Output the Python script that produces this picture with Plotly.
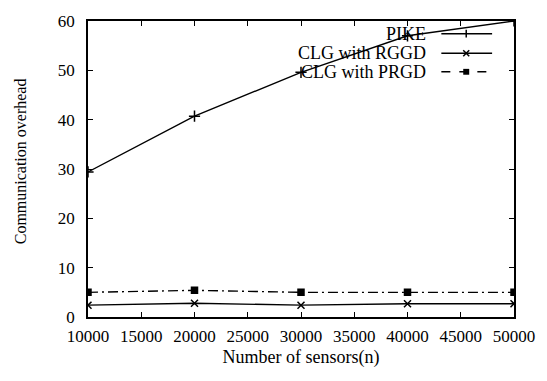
import plotly.graph_objects as go

# Number of sensors (n)
sensors = [10000, 20000, 30000, 40000, 50000]

# Communication overhead per scheme
pike = [29.4, 40.7, 49.6, 57.0, 60.0]
clg_rggd = [2.4, 2.8, 2.4, 2.7, 2.7]
clg_prgd = [5.0, 5.4, 5.0, 5.0, 5.0]

series_names = ["PIKE", "CLG with RGGD", "CLG with PRGD"]

FONT = "Liberation Serif"
W, H = 547, 381
ML, MR, MT, MB = 88, 31, 14, 64
PW, PH = W - ML - MR, H - MT - MB

styles = [
    dict(dash="solid", symbol="cross-thin", size=8),
    dict(dash="solid", symbol="x-thin", size=7),
    dict(dash="10px,4px,2px,4px", symbol="square", size=6),
]

fig = go.Figure()
for name, vals, st in zip(series_names, [pike, clg_rggd, clg_prgd], styles):
    fig.add_trace(go.Scatter(
        x=sensors, y=vals, name=name, mode="lines+markers",
        line=dict(color="black", width=1.4, dash=st["dash"]),
        marker=dict(symbol=st["symbol"], size=st["size"], color="black",
                    line=dict(color="black", width=1.5)),
        showlegend=False,
    ))


def px(x):
    return (x - ML) / PW


def py(y):
    return (MT + PH - y) / PH


# gnuplot-style key: right-aligned text with the sample line on its right
shapes = []
annotations = []
rows_y = [27, 47, 66]
line_x0, line_x1, mark_x = 443, 494, 468
for name, st, ry in zip(series_names, styles, rows_y):
    annotations.append(dict(
        x=px(430), y=py(ry), xref="paper", yref="paper", text=name,
        showarrow=False, xanchor="right", yanchor="middle",
        font=dict(family=FONT, size=18, color="black"),
    ))
    dash = "dash" if st["dash"] != "solid" else "solid"
    shapes.append(dict(type="line", xref="paper", yref="paper",
                       x0=px(line_x0), x1=px(line_x1), y0=py(ry), y1=py(ry),
                       line=dict(color="black", width=1.4, dash=dash)))
    if st["symbol"] == "square":
        shapes.append(dict(type="rect", xref="paper", yref="paper",
                           x0=px(mark_x - 3), x1=px(mark_x + 3),
                           y0=py(ry + 3), y1=py(ry - 3),
                           fillcolor="black", line=dict(color="black", width=0)))
    elif st["symbol"] == "cross-thin":
        shapes.append(dict(type="line", xref="paper", yref="paper",
                           x0=px(mark_x), x1=px(mark_x), y0=py(ry - 4), y1=py(ry + 4),
                           line=dict(color="black", width=1.5)))
    else:
        for d in (1, -1):
            shapes.append(dict(type="line", xref="paper", yref="paper",
                               x0=px(mark_x - 3), x1=px(mark_x + 3),
                               y0=py(ry - 3 * d), y1=py(ry + 3 * d),
                               line=dict(color="black", width=1.5)))

annotations.append(dict(
    x=-0.158, y=0.525, xref="paper", yref="paper", text="Communication overhead",
    showarrow=False, textangle=-90, xanchor="center", yanchor="middle",
    font=dict(family=FONT, size=16, color="black"),
))

axis_common = dict(
    showline=True, linecolor="black", linewidth=1.5, mirror="allticks",
    ticks="inside", ticklen=5, tickwidth=1.2, tickcolor="black",
    showgrid=False, zeroline=False,
    tickfont=dict(family=FONT, size=17, color="black"),
)

fig.update_layout(
    width=W, height=H,
    margin=dict(l=ML, r=MR, t=MT, b=MB),
    paper_bgcolor="white", plot_bgcolor="white",
    font=dict(family=FONT, color="black"),
    xaxis=dict(range=[10000, 50000], tickvals=list(range(10000, 50001, 5000)),
               tickformat="d",
               title=dict(text="Number of sensors(n)", standoff=5,
                          font=dict(family=FONT, size=18, color="black")),
               ticklabelstandoff=3, **axis_common),
    yaxis=dict(range=[0, 60], tickvals=list(range(0, 61, 10)),
               ticklabelstandoff=8, **axis_common),
    shapes=shapes, annotations=annotations,
)

fig.write_html("out.html")
